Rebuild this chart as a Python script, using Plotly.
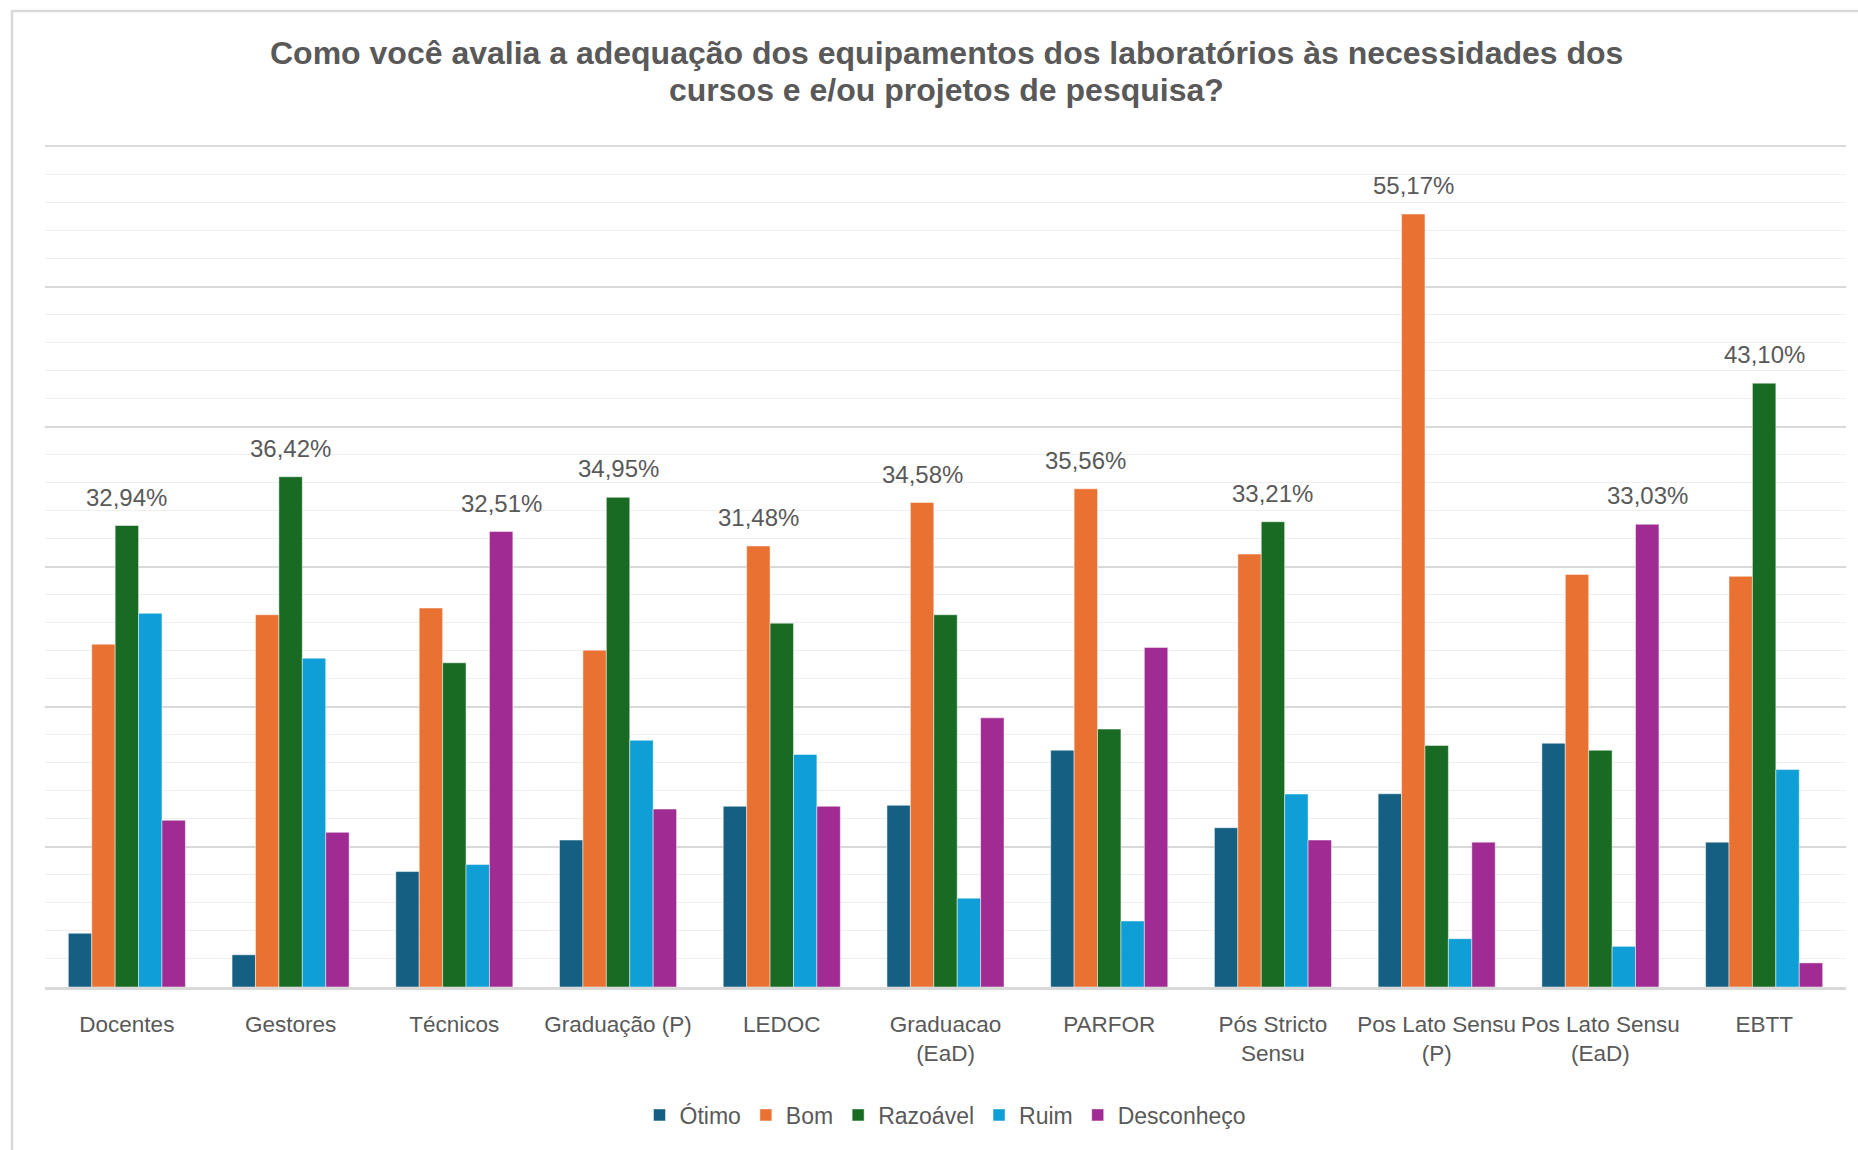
import plotly.graph_objects as go

# Survey groups (x-axis categories) and their displayed labels
categories = [
    "Docentes", "Gestores", "Técnicos", "Graduação (P)", "LEDOC",
    "Graduacao (EaD)", "PARFOR", "Pós Stricto Sensu", "Pos Lato Sensu (P)",
    "Pos Lato Sensu (EaD)", "EBTT",
]
tick_labels = [
    "Docentes", "Gestores", "Técnicos", "Graduação (P)", "LEDOC",
    "Graduacao<br>(EaD)", "PARFOR", "Pós Stricto<br>Sensu", "Pos Lato Sensu<br>(P)",
    "Pos Lato Sensu<br>(EaD)", "EBTT",
]

# Share of answers (%) per rating
otimo = [3.83, 2.30, 8.24, 10.49, 12.90, 12.97, 16.90, 11.37, 13.79, 17.40, 10.34]
bom = [24.47, 26.57, 27.05, 24.04, 31.48, 34.58, 35.56, 30.90, 55.17, 29.45, 29.31]
razoavel = [32.94, 36.42, 23.14, 34.95, 25.97, 26.57, 18.41, 33.21, 17.24, 16.90, 43.10]
ruim = [26.67, 23.47, 8.74, 17.61, 16.60, 6.34, 4.71, 13.77, 3.45, 2.90, 15.52]
desconheco = [11.90, 11.04, 32.51, 12.70, 12.90, 19.21, 24.24, 10.49, 10.34, 33.03, 1.72]

series_names = ["Ótimo", "Bom", "Razoável", "Ruim", "Desconheço"]
series_values = [otimo, bom, razoavel, ruim, desconheco]
series_colors = ["#156082", "#E97132", "#196B24", "#0F9ED5", "#A02B93"]

title_lines = [
    "Como você avalia a adequação dos equipamentos dos laboratórios às necessidades dos",
    "cursos e e/ou projetos de pesquisa?",
]

W, H = 1858, 1150
M_L, M_R, M_T, M_B = 45, 12, 145, 163
BARGAP = 0.285
TEXT = "#595959"
FONT = "Liberation Sans, Arial, sans-serif"

fig = go.Figure()
for name, vals, col in zip(series_names, series_values, series_colors):
    fig.add_trace(go.Bar(
        name=name, x=categories, y=vals,
        marker=dict(color=col, line=dict(color="rgba(255,255,255,0.6)", width=0.8)),
    ))

# Label the highest bar of each group with its percentage
n = len(series_names)
w = (1 - BARGAP) / n
annotations = []
for i in range(len(categories)):
    col_vals = [s[i] for s in series_values]
    j = max(range(n), key=lambda k: col_vals[k])
    v = col_vals[j]
    annotations.append(dict(
        x=i + (j - (n - 1) / 2) * w, y=v, xref="x", yref="y",
        text=f"{v:.2f}%".replace(".", ","), showarrow=False,
        yanchor="bottom", yshift=13,
        font=dict(size=24, color=TEXT, family=FONT),
    ))

plot_w = W - M_L - M_R
plot_h = H - M_T - M_B


def px_x(px):
    return (px - M_L) / plot_w


def px_y(py):
    return (H - M_B - py) / plot_h


# Two-line chart title, centred over the plot
for line, cy in zip(title_lines, (53, 90)):
    annotations.append(dict(
        text=f"<b>{line}</b>", xref="paper", yref="paper",
        x=px_x(946), y=px_y(cy), xanchor="center", yanchor="middle",
        showarrow=False, font=dict(size=32, color=TEXT, family=FONT),
    ))

# Light chart-area frame
shapes = [dict(
    type="rect", xref="paper", yref="paper",
    x0=px_x(12), x1=px_x(W + 4), y0=px_y(H + 4), y1=px_y(11),
    line=dict(color="#d9d9d9", width=2.5), fillcolor="rgba(0,0,0,0)", layer="below",
)]

fig.update_layout(
    width=W, height=H,
    margin=dict(l=M_L, r=M_R, t=M_T, b=M_B, autoexpand=False),
    paper_bgcolor="white", plot_bgcolor="white",
    barmode="group", bargap=BARGAP, bargroupgap=0,
    font=dict(family=FONT, color=TEXT),
    xaxis=dict(
        tickmode="array", tickvals=categories, ticktext=tick_labels,
        tickfont=dict(size=22.5, color=TEXT), ticks="", ticklabelstandoff=15,
        tickangle=0, automargin=False,
        showline=True, linecolor="#d9d9d9", linewidth=2.5, showgrid=False,
    ),
    yaxis=dict(
        range=[0, 60.1], tick0=0, dtick=10, showticklabels=False, ticks="",
        showgrid=True, gridcolor="#d9d9d9", gridwidth=1.6, zeroline=False,
        minor=dict(dtick=2, showgrid=True, gridcolor="#efefef", gridwidth=1.3),
        automargin=False,
    ),
    legend=dict(
        orientation="h", x=0.5, xanchor="center", y=px_y(1115), yanchor="middle",
        font=dict(size=23, color=TEXT), itemwidth=30,
    ),
    annotations=annotations,
    shapes=shapes,
)

fig.write_html("out.html")
